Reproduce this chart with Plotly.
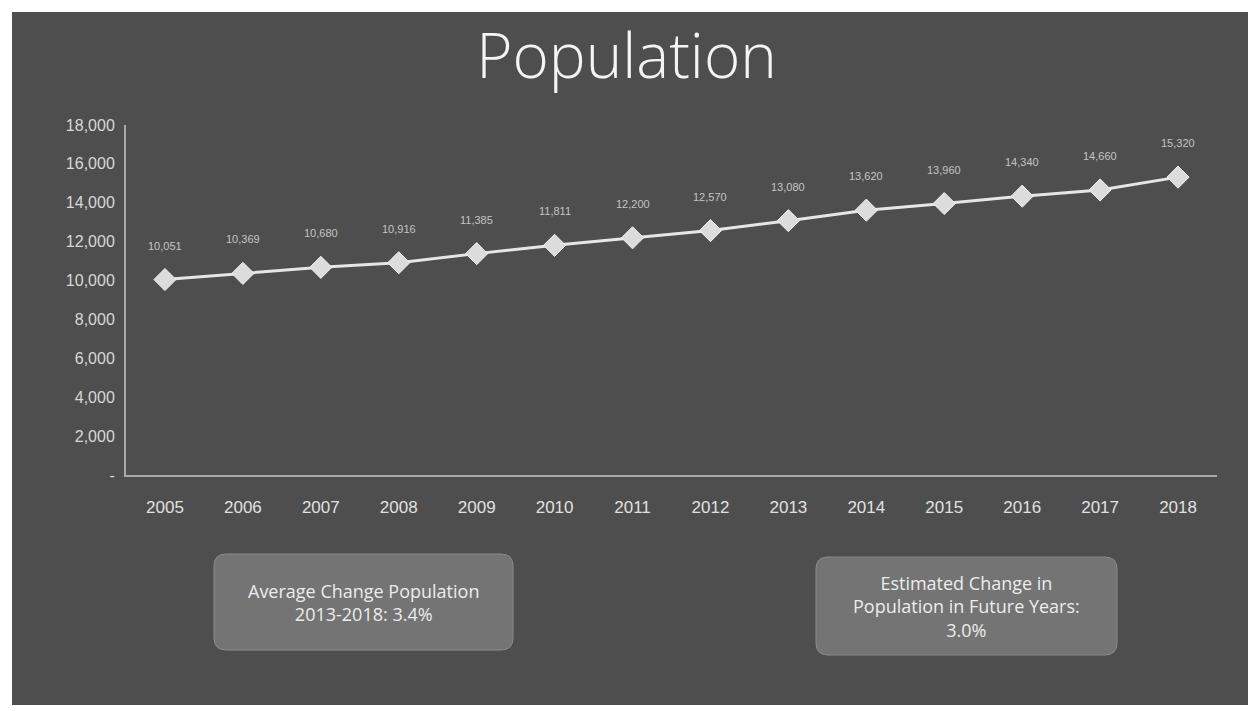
import plotly.graph_objects as go

years = ["2005", "2006", "2007", "2008", "2009", "2010", "2011", "2012", "2013", "2014", "2015", "2016", "2017", "2018"]
population = [10051, 10369, 10680, 10916, 11385, 11811, 12200, 12570, 13080, 13620, 13960, 14340, 14660, 15320]
y_ticks = [0, 2000, 4000, 6000, 8000, 10000, 12000, 14000, 16000, 18000]
y_tick_text = ["-", "2,000", "4,000", "6,000", "8,000", "10,000", "12,000", "14,000", "16,000", "18,000"]

W, H = 1253, 711
BG = "#4e4e4e"

fig = go.Figure()
fig.add_trace(go.Scatter(
    x=years, y=population,
    mode="lines+markers",
    line=dict(color="#e6e6e6", width=3),
    marker=dict(symbol="diamond", size=17, color="#dcdcdc", line=dict(color="#f2f2f2", width=1)),
    cliponaxis=False,
    hoverinfo="skip",
))

for i, v in enumerate(population):
    fig.add_annotation(x=i, y=v, xref="x", yref="y", text=f"{v:,}", showarrow=False, yshift=34,
                       xanchor="center", yanchor="middle",
                       font=dict(family="Liberation Sans, Arial", size=11, color="#c4c4c4"))

L, R, T, B = 126, 1217, 125, 475
fig.update_layout(
    width=W, height=H,
    paper_bgcolor="white",
    plot_bgcolor=BG,
    margin=dict(l=L, r=W - R, t=T, b=H - B),
    showlegend=False,
    title=dict(text="Population", x=0.5, xanchor="center", y=1 - 56 / H, yanchor="middle",
               font=dict(family="Open Sans", size=62, color="#f4f4f4", weight=300)),
    xaxis=dict(
        type="category", range=[-0.5, 13.5],
        showgrid=False, showline=True, linecolor="#a9a9a9", linewidth=2,
        ticks="", tickfont=dict(family="Liberation Sans, Arial", size=17, color="#e0e0e0"),
        ticklabelstandoff=16,
    ),
    yaxis=dict(
        range=[0, 18000], tickvals=y_ticks, ticktext=y_tick_text,
        showgrid=False, showline=True, linecolor="#a9a9a9", linewidth=2,
        ticks="", zeroline=False,
        tickfont=dict(family="Liberation Sans, Arial", size=16, color="#d8d8d8"),
        ticklabelstandoff=6,
    ),
    shapes=[
        dict(type="rect", xref="paper", yref="paper", layer="below",
             x0=-L / (R - L) + 12 / (R - L), x1=1 + (1248 - R) / (R - L),
             y0=-(705 - B) / (B - T), y1=1 + (T - 12) / (B - T),
             fillcolor=BG, line=dict(width=0)),
    ],
)

def px_x(p):
    return (p - L) / (R - L)

def px_y(p):
    return (B - p) / (B - T)

boxes = [
    (214, 554, 513, 650, "Average Change Population<br>2013-2018: 3.4%"),
    (816, 557, 1117, 655, "Estimated Change in<br>Population in Future Years:<br>3.0%"),
]
for x0, y0, x1, y1, txt in boxes:
    r = 12
    def P(x, y):
        return f"{px_x(x)},{px_y(y)}"
    path = (f"M {P(x0 + r, y0)} L {P(x1 - r, y0)} Q {P(x1, y0)} {P(x1, y0 + r)} "
            f"L {P(x1, y1 - r)} Q {P(x1, y1)} {P(x1 - r, y1)} L {P(x0 + r, y1)} "
            f"Q {P(x0, y1)} {P(x0, y1 - r)} L {P(x0, y0 + r)} Q {P(x0, y0)} {P(x0 + r, y0)} Z")
    fig.add_shape(type="path", xref="paper", yref="paper", path=path,
                  fillcolor="#747474", line=dict(color="#8a8a8a", width=1), layer="above")
    fig.add_annotation(xref="paper", yref="paper", x=px_x((x0 + x1) / 2), y=px_y((y0 + y1) / 2),
                       xanchor="center", yanchor="middle",
                       text=txt, showarrow=False, align="center",
                       font=dict(family="Open Sans", size=18, color="#ececec"))

fig.write_html("out.html")
